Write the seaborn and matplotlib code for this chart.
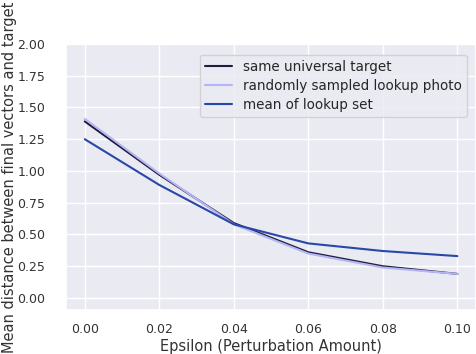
import numpy as np
import pandas as pd
import matplotlib
matplotlib.use("Agg")
import matplotlib.pyplot as plt
import seaborn as sns

sns.set_theme(style="darkgrid")

# Data
epsilon = [0.00, 0.02, 0.04, 0.06, 0.08, 0.10]
same_target = [1.39, 0.97, 0.59, 0.36, 0.25, 0.19]
random_photo = [1.41, 0.98, 0.58, 0.35, 0.24, 0.19]
mean_lookup = [1.25, 0.89, 0.58, 0.43, 0.37, 0.33]

labels = ["same universal target", "randomly sampled lookup photo", "mean of lookup set"]
colors = ["#1e1e3c", "#b4b4f6", "#2848a8"]

df = pd.DataFrame({"eps": epsilon * 3,
                   "dist": same_target + random_photo + mean_lookup,
                   "series": [labels[0]] * 6 + [labels[1]] * 6 + [labels[2]] * 6})

f, ax = plt.subplots(figsize=(4.76, 3.54), dpi=100)
sns.lineplot(data=df, x="eps", y="dist", hue="series", palette=colors,
             linewidth=1.5, ax=ax)

ax.set_ylim(-0.095, 2.0)
ax.set_yticks(np.arange(0, 2.01, 0.25))
ax.set_xticks(epsilon)
ax.tick_params(labelsize=9, colors="#333333")
ax.tick_params(axis="y", pad=9)
ax.set_xlabel("Epsilon (Perturbation Amount)", fontsize=10.5, color="#333333", labelpad=2)
ax.set_ylabel("Mean distance between final vectors and target", fontsize=10.5,
              color="#333333")
ax.yaxis.set_label_coords(-0.121, 0.5)

leg = ax.legend(loc="upper right", fontsize=9.75, labelspacing=0.35,
                bbox_to_anchor=(0.995, 0.985))
leg.set_title(None)

plt.subplots_adjust(left=0.139, right=1.0, top=0.876, bottom=0.124)
plt.savefig("out.png", dpi=100)
